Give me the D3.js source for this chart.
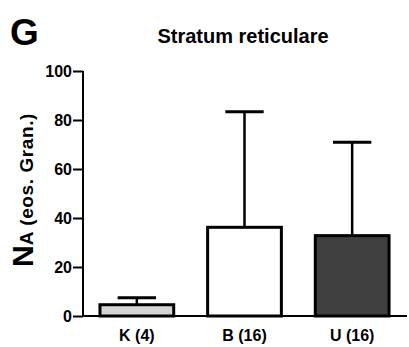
<!DOCTYPE html>
<meta charset="utf-8">
<script src="https://d3js.org/d3.v7.min.js"></script>
<html>
<head>
<style>
  body { margin: 0; background: #fff; }
  text { font-family: "Liberation Sans", Arial, sans-serif; font-weight: bold; }
</style>
</head>
<body>
<div id="chart"></div>
<script>
// data
var groups = ["K (4)", "B (16)", "U (16)"];
var means = [4.6, 36.2, 32.8];
var errTop = [7.5, 83.4, 70.9];
var fills = ["#d4d4d4", "#ffffff", "#404040"];
var yTicks = [0, 20, 40, 60, 80, 100];

var W = 409, H = 347;
var margin = {top: 71, left: 83, right: 3, bottom: 31};

var svg = d3.select("#chart").append("svg")
  .attr("width", W).attr("height", H);

var x = d3.scaleBand()
  .domain(groups)
  .range([margin.left, W - margin.right])
  .paddingInner(0.315)
  .paddingOuter(0.1575);

var y = d3.scaleLinear()
  .domain([0, 100])
  .range([H - margin.bottom, margin.top]);

var bars = groups.map(function(g, i) {
  return {g: g, m: means[i], e: errTop[i], c: fills[i]};
});

// error bars (only upper part drawn)
var cap = x.bandwidth() * 0.52;
svg.selectAll(".err").data(bars).enter().append("line")
  .attr("x1", function(d) { return x(d.g) + x.bandwidth() / 2; })
  .attr("x2", function(d) { return x(d.g) + x.bandwidth() / 2; })
  .attr("y1", function(d) { return y(d.m); })
  .attr("y2", function(d) { return y(d.e); })
  .style("stroke", "#000").style("stroke-width", 2.5);
svg.selectAll(".cap").data(bars).enter().append("line")
  .attr("x1", function(d) { return x(d.g) + x.bandwidth() / 2 - cap / 2; })
  .attr("x2", function(d) { return x(d.g) + x.bandwidth() / 2 + cap / 2; })
  .attr("y1", function(d) { return y(d.e); })
  .attr("y2", function(d) { return y(d.e); })
  .style("stroke", "#000").style("stroke-width", 3);

// bars
svg.selectAll(".bar").data(bars).enter().append("rect")
  .attr("x", function(d) { return x(d.g); })
  .attr("y", function(d) { return y(d.m); })
  .attr("width", x.bandwidth())
  .attr("height", function(d) { return y(0) - y(d.m); })
  .style("fill", function(d) { return d.c; })
  .style("stroke", "#000").style("stroke-width", 3);

// y axis
var yAxis = svg.append("g")
  .attr("transform", "translate(" + margin.left + ",0)")
  .call(d3.axisLeft(y).tickValues(yTicks).tickSize(10).tickPadding(1));
yAxis.select(".domain").attr("d", "M0," + y(100) + "V" + y(0)).style("stroke-width", 2);
yAxis.selectAll(".tick line").style("stroke-width", 2);
yAxis.selectAll("text")
  .style("font-family", "'Liberation Sans Narrow', 'Liberation Sans', sans-serif")
  .style("font-size", "16px").style("fill", "#000");

// x axis
var xAxis = svg.append("g")
  .attr("transform", "translate(0," + y(0) + ")")
  .call(d3.axisBottom(x).tickSize(0).tickPadding(14));
xAxis.select(".domain").attr("d", "M" + margin.left + ",0H" + (W - 2)).style("stroke-width", 2);
xAxis.selectAll("text").style("font-size", "16px").style("fill", "#000");

// title
svg.append("text")
  .attr("x", 243).attr("y", 43)
  .attr("text-anchor", "middle")
  .style("font-size", "20px")
  .text("Stratum reticulare");

// panel letter
svg.append("text")
  .attr("x", 10).attr("y", 45)
  .style("font-size", "37px")
  .text("G");

// y label
var yl = svg.append("text")
  .attr("transform", "translate(33,190) rotate(-90)")
  .attr("text-anchor", "middle");
yl.append("tspan").style("font-size", "30px").text("N");
yl.append("tspan").style("font-size", "19px").text("A");
yl.append("tspan").style("font-size", "19px").style("letter-spacing", "0.6px").text(" (eos. Gran.)");
</script>
</body>
</html>
